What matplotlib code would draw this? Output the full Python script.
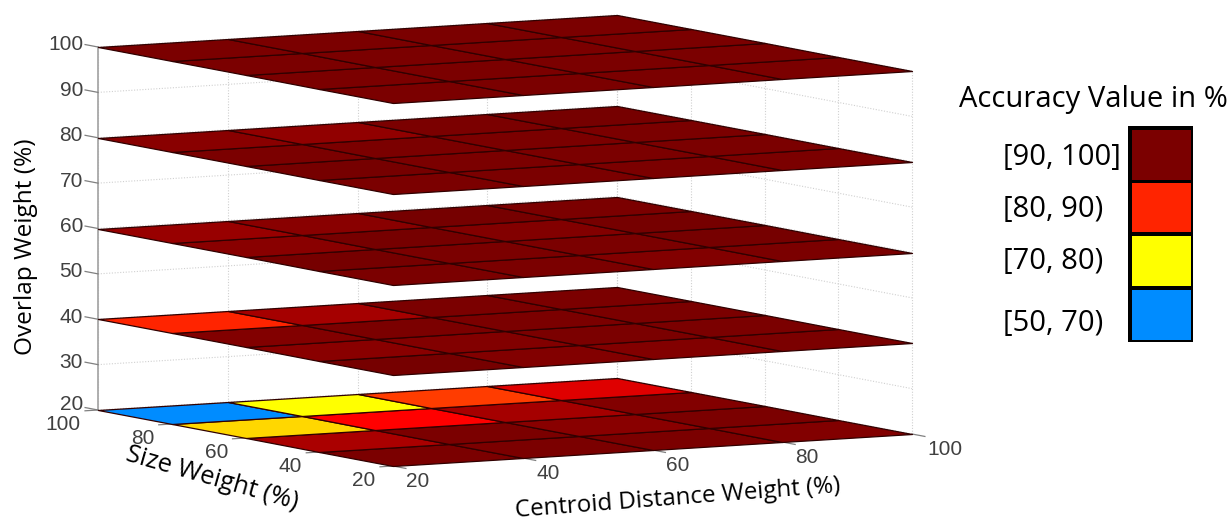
import numpy as np
import matplotlib
matplotlib.use("Agg")
import matplotlib.pyplot as plt
from matplotlib.colors import LinearSegmentedColormap, Normalize
from matplotlib.patches import Rectangle

centroid_ticks = [20, 40, 60, 80, 100]
size_ticks = [20, 40, 60, 80, 100]
overlap_planes = [20, 40, 60, 80, 100]
overlap_ticks = [20, 30, 40, 50, 60, 70, 80, 90, 100]

# Rows run from size 20 to size 100, columns from centroid 20 to centroid 100
accuracy_o20 = [[98, 98, 98, 97], [91, 98, 96, 98], [77, 85, 92, 97], [58, 74, 82, 88]]
accuracy_o40 = [[99, 97, 97, 98], [96, 97, 98, 98], [97, 98, 98, 98], [83, 92, 98, 98]]
accuracy_o60 = [[98, 98, 97, 98], [99, 98, 98, 99], [96, 99, 97, 99], [94, 96, 99, 98]]
accuracy_o80 = [[98, 98, 98, 98], [99, 98, 98, 98], [98, 98, 98, 98], [96, 95, 98, 99]]
accuracy_o100 = [[98, 98, 98, 98], [98, 98, 98, 98], [98, 98, 98, 98], [98, 98, 98, 98]]
accuracy = [accuracy_o20, accuracy_o40, accuracy_o60, accuracy_o80, accuracy_o100]

legend_labels = ["[90, 100]", "[80, 90)", "[70, 80)", "[50, 70)"]
legend_values = [98, 83, 74, 58]

W, H = 1227, 521
fig = plt.figure(figsize=(W / 100, H / 100), dpi=100)
ax = fig.add_axes([0, 0, 1, 1])
ax.set_xlim(0, W)
ax.set_ylim(H, 0)
ax.axis("off")


def project(c, s, z):
    c, s, z = np.asarray(c, float), np.asarray(s, float), np.asarray(z, float)
    px = 393 + (c - 20) * 519 / 80 - (s - 20) * 295 / 80
    py = 466 - (c - 20) * 32 / 80 - (s - 20) * 56 / 80 - (z - 20) * 363 / 80
    return px, py


stops = [(50, "#008cff"), (60, "#008cff"), (72, "#ffff00"), (74, "#ffff00"), (77, "#ffd700"),
         (82, "#ff3c00"), (83, "#ff2300"), (85, "#ff0000"), (88, "#e00000"), (91, "#aa0000"),
         (92, "#a50000"), (94, "#980000"), (96, "#8a0000"), (98, "#7b0000"), (100, "#720000")]
cmap = LinearSegmentedColormap.from_list("acc", [((v - 50) / 50, col) for v, col in stops], N=512)
norm = Normalize(50, 100)

grid_kw = dict(color="#d0d0d0", lw=0.8, ls=(0, (1, 1.5)), zorder=1)
for c in centroid_ticks:
    ax.plot(*project([c, c], [100, 100], [20, 100]), **grid_kw)
for s in size_ticks:
    ax.plot(*project([100, 100], [s, s], [20, 100]), **grid_kw)
for z in overlap_ticks:
    ax.plot(*project([20, 100, 100], [100, 100, 20], [z, z, z]), **grid_kw)

ax.plot(*project([20, 20], [100, 100], [20, 100]), color="#a8a8a8", lw=1.3, zorder=1)

cc, ss = np.meshgrid(centroid_ticks, size_ticks)
for z, values in zip(overlap_planes, accuracy):
    px, py = project(cc, ss, np.full(cc.shape, z))
    ax.pcolormesh(px, py, np.array(values, float), cmap=cmap, norm=norm, shading="flat",
                  edgecolors="#300000", linewidth=0.9, antialiased=True, zorder=2 + z / 100)

tick_col = "#404040"
tick_kw = dict(color="#808080", lw=0.9, zorder=1.5)
lab_kw = dict(family="Liberation Sans", fontsize=15, color=tick_col, va="center")
for z in overlap_ticks:
    ax.plot(*project([20, 20], [100, 103.5], [z, z]), **tick_kw)
    px, py = project(20, 100, z)
    ax.text(px - 15, py - 2 - (3 if z == 20 else 0), str(z), ha="right", **lab_kw)
for c in centroid_ticks:
    ax.plot(*project([c, c], [20, 16.5], [20, 20]), **tick_kw)
    px, py = project(c, 20, 20)
    ax.text(px + (33 if c == 100 else 25), py + 15.5, str(c), ha="center", **lab_kw)
for s in size_ticks:
    ax.plot(*project([20, 18], [s, s], [20, 20]), **tick_kw)
    px, py = project(20, s, 20)
    ax.text(px - (35 if s == 100 else 29), py + (15 if s == 100 else 14), str(s), ha="center", **lab_kw)

label_font = "Open Sans"
ax.text(26, 247, "Overlap Weight (%)", rotation=90, ha="center", va="center",
        family=label_font, fontsize=17.6, color="black")
ax.text(212, 479, "Size Weight (%)", rotation=-16, rotation_mode="anchor", ha="center", va="center",
        family=label_font, fontsize=18.3, color="black")
ax.text(678, 498.5, "Centroid Distance Weight (%)", rotation=4.4, rotation_mode="anchor", ha="center", va="center",
        family=label_font, fontsize=17.4, color="black")

ax.text(1093, 99, "Accuracy Value in %", ha="center", va="center",
        family=label_font, fontsize=21, color="black")
ax.add_patch(Rectangle((1128, 126), 65, 216, facecolor="black", edgecolor="none", zorder=3))
legend_tops = [130, 183, 236, 290]
legend_heights = [50, 49, 50, 50]
legend_text_y = [157, 209, 262, 323]
for lab, val, top, h, ty in zip(legend_labels, legend_values, legend_tops, legend_heights, legend_text_y):
    ax.add_patch(Rectangle((1132, top), 59, h, facecolor=cmap(norm(val)), edgecolor="none", zorder=4))
    ax.text(1003, ty, lab, ha="left", va="center", family=label_font, fontsize=21, color="black")

fig.savefig("out.png", dpi=100)
